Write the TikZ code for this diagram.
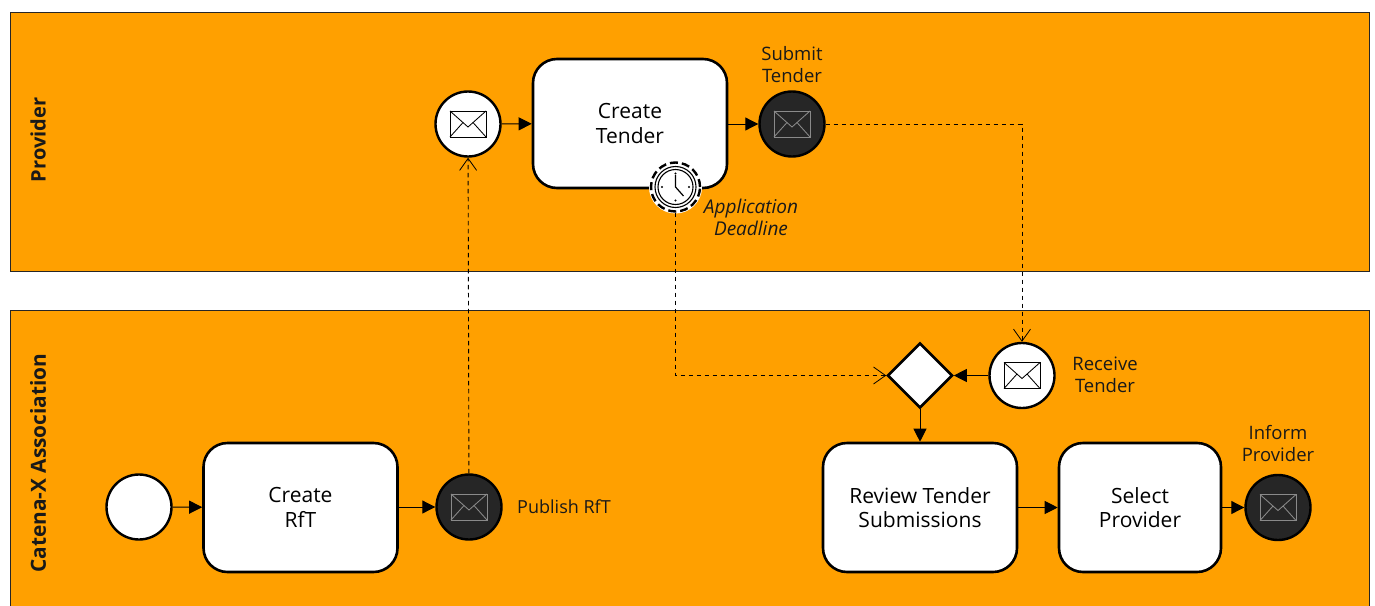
\documentclass[tikz,border=0pt]{standalone}
\usepackage{fontspec}
\setmainfont{Open Sans}
\usetikzlibrary{arrows.meta,shapes.geometric,calc}
\definecolor{laneorange}{HTML}{FFA000}
\definecolor{evdark}{HTML}{262626}
\definecolor{envgrey}{HTML}{8A8A8A}
\tikzset{
  lane/.style={draw=black!85,fill=laneorange,line width=0.9pt},
  lanelabel/.style={rotate=90,font=\fontsize{20}{24}\selectfont\bfseries,text=black!90},
  task/.style={draw=black,fill=white,line width=2.6pt,rounded corners=24pt,align=center,
    font=\fontsize{21}{24.5}\selectfont,minimum height=129pt,inner sep=0pt},
  evt/.style={circle,draw=black,line width=2.4pt,minimum size=65pt,inner sep=0pt},
  evwhite/.style={evt,fill=white},
  evblack/.style={evt,fill=evdark},
  gate/.style={diamond,draw=black,fill=white,line width=2.6pt,minimum width=65pt,minimum height=65pt,aspect=1,inner sep=0pt},
  lbl/.style={align=center,font=\fontsize{18.5}{22}\selectfont,text=black!90,inner sep=0pt},
  seq/.style={draw=black,line width=1pt,-{Triangle[length=13pt,width=13pt]}},
  msg/.style={draw=black,line width=0.9pt,dash pattern=on 4.5pt off 3.5pt,-{Straight Barb[length=12pt,width=17pt,line width=0.8pt]}},
}
\newcommand{\envelopeat}[2]{%
  \begin{scope}[shift={(#1)},draw=#2,line width=0.85pt,line join=miter]
    \draw (-18,-13) rectangle (18,13);
    \draw (-18,-13) -- (0,3) -- (18,-13);
    \draw (-18,13) -- (-5,-1.5);
    \draw (18,13) -- (5,-1.5);
  \end{scope}}
\begin{document}
\begin{tikzpicture}[x=1pt,y=-1pt]
\useasboundingbox (0,0) rectangle (1375,605);
\clip (0,0) rectangle (1375,605);
\fill[white] (0,0) rectangle (1375,605);
\draw[lane] (10,12) rectangle (1369,271);
\draw[lane] (10,310) rectangle (1369,630);
\node[lanelabel] (provlabel) at (38,140) {Provider};
\node[lanelabel,font=\fontsize{20.8}{24}\selectfont\bfseries] (catlabel) at (38,463) {Catena-X Association};

% provider lane
\node[evwhite] (recvcall) at (468,124) {};
\node[task,minimum width=194pt] (createtender) at (630,123.5) {Create\\Tender};
\node[evblack] (submit) at (792,124) {};
\node[lbl] (submitlbl) at (792,65) {Submit\\Tender};
\node[circle,fill=white,inner sep=0pt,minimum size=53pt] (timerbg) at (675.5,187) {};
\node[circle,draw=black,line width=2.4pt,dash pattern=on 8pt off 4pt,minimum size=49pt,inner sep=0pt] (timer) at (675.5,187) {};
\draw[black,line width=1.1pt] (timer.center) circle (20.5pt) (timer.center) circle (17.5pt);
\begin{scope}[shift={(timer.center)},line width=1.2pt,black]
  \draw (0,-12) -- (0,0) -- (8,9);
  \fill (0,-13.5) circle (1.1pt) (0,13.5) circle (1.1pt) (-13.5,0) circle (1.1pt) (13.5,0) circle (1.1pt);
\end{scope}
\node[lbl,font=\fontsize{19}{22}\selectfont\itshape] (deadline) at (751,217) {Application\\Deadline};
\envelopeat{recvcall.center}{black}
\envelopeat{submit.center}{envgrey}

% association lane
\node[evwhite] (start) at (139,507) {};
\node[task,minimum width=194pt] (createrft) at (300.5,507.5) {Create\\RfT};
\node[evblack] (publish) at (469,507) {};
\node[lbl,font=\fontsize{18}{22}\selectfont] (publishlbl) at (564,507) {Publish RfT};
\node[gate] (gw) at (920,375.5) {};
\node[evwhite] (receive) at (1022,375.5) {};
\node[lbl] (receivelbl) at (1105,375) {Receive\\Tender};
\node[task,minimum width=194pt] (review) at (920,507.5) {Review Tender\\Submissions};
\node[task,minimum width=162pt] (select) at (1140,507.5) {Select\\Provider};
\node[evblack] (inform) at (1278,507.5) {};
\node[lbl] (informlbl) at (1278,444) {Inform\\Provider};
\envelopeat{receive.center}{black}
\envelopeat{publish.center}{envgrey}
\envelopeat{inform.center}{envgrey}

% sequence flows
\draw[seq] (recvcall) -- (createtender);
\draw[seq] (createtender.east |- submit) -- (submit);
\draw[seq] (start) -- (createrft);
\draw[seq] (createrft.east |- publish) -- (publish);
\draw[seq] (receive) -- (gw);
\draw[seq] (gw) -- (review);
\draw[seq] (review.east |- select) -- (select);
\draw[seq] (select) -- (inform);

% message flows
\draw[msg] (publish) -- (recvcall);
\draw[msg] (submit) -| (receive);
\draw[msg] (timer) |- (gw);
\end{tikzpicture}
\end{document}
